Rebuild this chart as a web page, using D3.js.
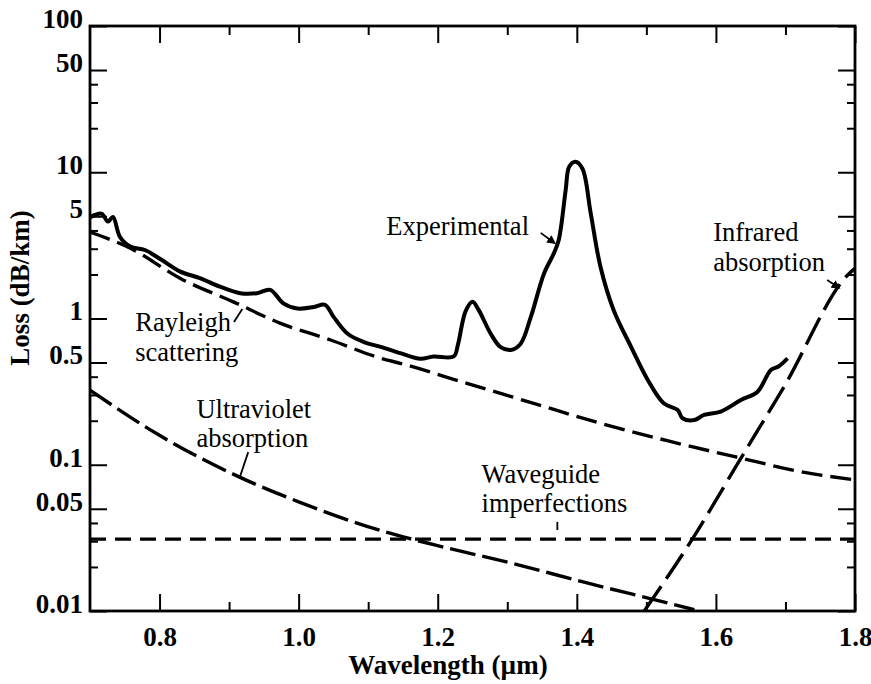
<!DOCTYPE html>
<html>
<head>
<meta charset="utf-8">
<script src="https://cdn.jsdelivr.net/npm/d3@7/dist/d3.min.js"></script>
<style>
  html, body { margin: 0; padding: 0; background: #fff; }
  svg { display: block; }
  text { font-family: "Liberation Serif", "Times New Roman", serif; fill: #000; }
</style>
</head>
<body>
<script>
// ---------------- DATA ----------------
const xMajorTicks = [0.8, 1.0, 1.2, 1.4, 1.6, 1.8];
const xMinorTicks = [0.9, 1.1, 1.3, 1.5, 1.7];
const yMajorTicks = [100, 50, 10, 5, 1, 0.5, 0.1, 0.05, 0.01];
const yMajorLabels = ["100", "50", "10", "5", "1", "0.5", "0.1", "0.05", "0.01"];
const yMinorTicks = [40, 30, 20, 4, 3, 2, 0.4, 0.3, 0.2, 0.04, 0.03, 0.02];

// Experimental loss curve (wavelength µm, loss dB/km)
const expLambda = [0.700, 0.707, 0.717, 0.726, 0.733, 0.743, 0.758, 0.779, 0.801, 0.830, 0.858, 0.887, 0.916, 0.940, 0.959, 0.978, 0.998, 1.022, 1.038, 1.050, 1.070, 1.094, 1.118, 1.146, 1.175, 1.194, 1.223, 1.229, 1.240, 1.250, 1.259, 1.276, 1.290, 1.305, 1.319, 1.334, 1.353, 1.367, 1.374, 1.384, 1.389, 1.398, 1.408, 1.420, 1.434, 1.453, 1.478, 1.502, 1.525, 1.545, 1.552, 1.569, 1.583, 1.607, 1.636, 1.660, 1.679, 1.690, 1.703];
const expLoss   = [4.90, 5.10, 5.20, 4.60, 4.95, 3.62, 3.10, 2.94, 2.55, 2.09, 1.89, 1.65, 1.49, 1.49, 1.57, 1.27, 1.17, 1.20, 1.24, 1.03, 0.79, 0.69, 0.64, 0.58, 0.53, 0.55, 0.55, 0.66, 1.12, 1.30, 1.14, 0.79, 0.64, 0.61, 0.67, 1.03, 2.04, 2.79, 3.44, 7.56, 10.9, 11.8, 10.6, 5.24, 2.26, 1.14, 0.64, 0.38, 0.263, 0.237, 0.208, 0.202, 0.219, 0.231, 0.277, 0.316, 0.445, 0.47, 0.534];

// Rayleigh scattering
const rayLambda = [0.700, 0.758, 0.830, 0.906, 0.974, 1.046, 1.118, 1.146, 1.242, 1.338, 1.434, 1.530, 1.636, 1.722, 1.800];
const rayLoss   = [3.90, 3.02, 1.88, 1.30, 0.927, 0.713, 0.535, 0.494, 0.36, 0.263, 0.192, 0.146, 0.111, 0.0897, 0.0787];

// Ultraviolet absorption
const uvLambda = [0.700, 0.795, 0.919, 1.000, 1.124, 1.197, 1.307, 1.416, 1.504, 1.569];
const uvLoss   = [0.324, 0.164, 0.0807, 0.0558, 0.0348, 0.0282, 0.0212, 0.0155, 0.0122, 0.0102];

// Waveguide imperfections
const wgLambda = [0.700, 1.800];
const wgLoss   = [0.031, 0.031];

// Infrared absorption
const irLambda = [1.497, 1.566, 1.636, 1.698, 1.792, 1.800];
const irLoss   = [0.010, 0.031, 0.111, 0.342, 2.04, 2.20];

// Annotation labels: [text, lambda, loss]
const noteLabels = [
  ["Experimental", 1.126, 3.72],
  ["Infrared", 1.596, 3.39],
  ["absorption", 1.596, 2.11],
  ["Rayleigh", 0.765, 0.821],
  ["scattering", 0.765, 0.512],
  ["Ultraviolet", 0.853, 0.209],
  ["absorption", 0.853, 0.132],
  ["Waveguide", 1.263, 0.075],
  ["imperfections", 1.263, 0.0475]
];
// Annotation pointers: [lambda1, loss1, lambda2, loss2, arrowhead]
const notePointers = [
  [1.348, 3.85, 1.368, 3.28, true],
  [1.760, 1.83, 1.777, 1.62, true],
  [0.907, 0.946, 0.919, 1.16, false],
  [0.9275, 0.122, 0.916, 0.0838, false],
  [1.372, 0.0407, 1.372, 0.0358, false]
];

// ---------------- CHART ----------------
const W = 871, H = 684;
const L = 90, R = 855, T = 26, B = 611;

const svg = d3.select("body").append("svg").attr("width", W).attr("height", H);

const x = d3.scaleLinear().domain([0.7, 1.8]).range([L, R]);
const y = d3.scaleLog().domain([0.01, 100]).range([B, T]);

svg.append("defs").append("clipPath").attr("id", "plotclip")
  .append("rect").attr("x", L).attr("y", T).attr("width", R - L).attr("height", B - T);

// axes (ticks pointing inward)
function styleAxis(g) {
  g.select(".domain").remove();
  g.selectAll(".tick line").attr("stroke", "#000").attr("stroke-width", 2);
}
svg.append("g").attr("transform", `translate(0,${B})`)
  .call(d3.axisBottom(x).tickValues(xMajorTicks).tickSize(-17).tickPadding(0).tickFormat(d3.format(".1f")))
  .call(styleAxis)
  .call(g => g.selectAll(".tick text").attr("y", 35).attr("dy", 0)
        .style("font-family", '"Liberation Serif", serif').style("font-weight", "bold").style("font-size", "27px"));
svg.append("g").attr("transform", `translate(0,${B})`)
  .call(d3.axisBottom(x).tickValues(xMinorTicks).tickSize(-9).tickFormat(""))
  .call(styleAxis);
svg.append("g").attr("transform", `translate(0,${T})`)
  .call(d3.axisTop(x).tickValues(xMajorTicks).tickSize(-17).tickFormat(""))
  .call(styleAxis);
svg.append("g").attr("transform", `translate(0,${T})`)
  .call(d3.axisTop(x).tickValues(xMinorTicks).tickSize(-9).tickFormat(""))
  .call(styleAxis);

svg.append("g").attr("transform", `translate(${L},0)`)
  .call(d3.axisLeft(y).tickValues(yMajorTicks).tickSize(-17).tickPadding(0)
        .tickFormat((d, i) => yMajorLabels[i]))
  .call(styleAxis)
  .call(g => g.selectAll(".tick text").attr("x", -7).attr("dy", "0.05em")
        .style("font-family", '"Liberation Serif", serif').style("font-weight", "bold").style("font-size", "27px"));
svg.append("g").attr("transform", `translate(${L},0)`)
  .call(d3.axisLeft(y).tickValues(yMinorTicks).tickSize(-8).tickFormat(""))
  .call(styleAxis);
svg.append("g").attr("transform", `translate(${R},0)`)
  .call(d3.axisRight(y).tickValues(yMajorTicks).tickSize(-17).tickFormat(""))
  .call(styleAxis);
svg.append("g").attr("transform", `translate(${R},0)`)
  .call(d3.axisRight(y).tickValues(yMinorTicks).tickSize(-8).tickFormat(""))
  .call(styleAxis);

// frame
svg.append("rect").attr("x", L).attr("y", T).attr("width", R - L).attr("height", B - T)
  .attr("fill", "none").attr("stroke", "#000").attr("stroke-width", 2.8);

// axis titles
svg.append("text").attr("x", 448).attr("y", 674).attr("text-anchor", "middle")
  .style("font-weight", "bold").style("font-size", "27px").text("Wavelength (µm)");
svg.append("text").attr("transform", "translate(29,288) rotate(-90)").attr("text-anchor", "middle")
  .style("font-weight", "bold").style("font-size", "27px").text("Loss (dB/km)");

// curves
const plot = svg.append("g").attr("clip-path", "url(#plotclip)");
const zip = (a, b) => a.map((v, i) => [v, b[i]]);
const lineSmooth = d3.line().x(d => x(d[0])).y(d => y(d[1])).curve(d3.curveCatmullRom.alpha(0.5));
const lineStraight = d3.line().x(d => x(d[0])).y(d => y(d[1])).curve(d3.curveMonotoneX);

plot.append("path").datum(zip(rayLambda, rayLoss)).attr("d", lineStraight)
  .attr("fill", "none").attr("stroke", "#000").attr("stroke-width", 3.4).attr("stroke-dasharray", "21,8");
plot.append("path").datum(zip(uvLambda, uvLoss)).attr("d", lineStraight)
  .attr("fill", "none").attr("stroke", "#000").attr("stroke-width", 3.4).attr("stroke-dasharray", "26,7");
plot.append("path").datum(zip(wgLambda, wgLoss)).attr("d", lineStraight)
  .attr("fill", "none").attr("stroke", "#000").attr("stroke-width", 3.4).attr("stroke-dasharray", "16,9");
plot.append("path").datum(zip(irLambda, irLoss)).attr("d", lineStraight)
  .attr("fill", "none").attr("stroke", "#000").attr("stroke-width", 3.4).attr("stroke-dasharray", "30,9");
plot.append("path").datum(zip(expLambda, expLoss)).attr("d", lineSmooth)
  .attr("fill", "none").attr("stroke", "#000").attr("stroke-width", 4).attr("stroke-linejoin", "round");

// annotations
svg.select("defs").append("marker").attr("id", "arrow").attr("viewBox", "0 0 10 10")
  .attr("refX", 8).attr("refY", 5).attr("markerWidth", 5).attr("markerHeight", 5)
  .attr("orient", "auto").append("path").attr("d", "M0,0 L10,5 L0,10 Z").attr("fill", "#000");

svg.append("g").selectAll("text").data(noteLabels).join("text")
  .attr("x", d => x(d[1])).attr("y", d => y(d[2]))
  .style("font-size", "26.5px").text(d => d[0]);

svg.append("g").selectAll("line").data(notePointers).join("line")
  .attr("x1", d => x(d[0])).attr("y1", d => y(d[1]))
  .attr("x2", d => x(d[2])).attr("y2", d => y(d[3]))
  .attr("stroke", "#000").attr("stroke-width", 1.8)
  .attr("marker-end", d => d[4] ? "url(#arrow)" : null);
</script>
</body>
</html>
